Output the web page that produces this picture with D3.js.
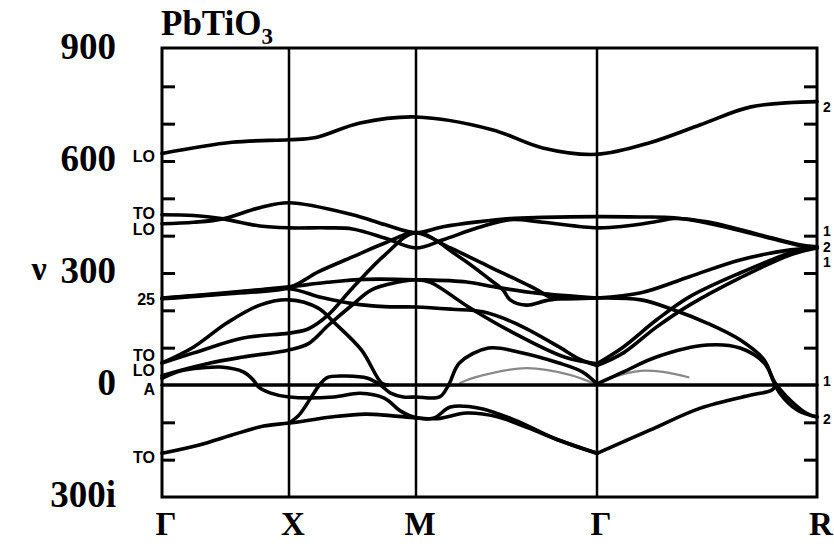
<!DOCTYPE html>
<html>
<head>
<meta charset="utf-8">
<script src="https://cdn.jsdelivr.net/npm/d3@7"></script>
<style>
  body { margin: 0; background: #fff; }
  svg text { fill: #000; }
</style>
</head>
<body>
<div id="chart"></div>
<script>
// Symmetry points along the path
const symLabels = ['Γ', 'X', 'M', 'Γ', 'R'];
const symPos = [0, 1, 2, 3, 4];

// Frequency axis labels (cm^-1), imaginary below zero
const yLabelValues = [900, 600, 300, 0, -300];
const yLabelText = ['900', '600', '300', '0', '300i'];
const yMinorTicks = [-200, -100, 100, 200, 300, 400, 500, 600, 700, 800];

// Mode labels at Γ (left) and at R (right)
const gammaLabels = [
  { text: 'LO', v: 612 }, { text: 'TO', v: 460 }, { text: 'LO', v: 418 },
  { text: '25', v: 228 }, { text: 'TO', v: 80 }, { text: 'LO', v: 38 },
  { text: 'A', v: -13 }, { text: 'TO', v: -193 }
];
const rLabels = [
  { text: '2', v: 745 }, { text: '1', v: 412 }, { text: '2', v: 370 },
  { text: '1', v: 328 }, { text: '1', v: 10 }, { text: '2', v: -90 }
];

// Branches: [path position, frequency]
const branchLOtop = [[0,620],[0.55,650],[1,657],[1.2,662],[1.56,702],[2,718],[2.42,684],[2.70,635],[3,618],[3.24,649],[3.47,697],[3.70,745],[4,759]];
const branchTO1 = [[0,456],[0.25,454],[0.48,445],[0.77,426],[1,421],[1.3,421],[1.5,418],[1.76,393],[2,367],[2.15,389],[2.34,421],[2.52,443],[2.70,436],[3,421],[3.12,425],[3.27,438],[3.35,446],[3.5,437],[3.73,404],[3.91,377],[4,370]];
const branchLO1 = [[0,432],[0.25,436],[0.48,445],[0.77,475],[1,488],[1.5,456],[1.76,429],[2,408],[2.15,424],[2.34,437],[2.52,446],[2.7,449],[3,451],[3.2,450],[3.35,448],[3.5,434],[3.73,402],[3.91,375],[4,367]];
const branch25a = [[0,233],[0.5,247],[1,263],[1.3,275],[1.6,283],[2,282],[2.28,276],[2.43,263],[2.67,246],[3,233]];
const branch25aR = [[3,233],[3.2,247],[3.42,290],[3.65,335],[3.88,362],[4,367]];
const branch25b = [[0,231],[0.5,244],[1,261],[1.23,303],[1.5,343],[1.76,381],[2,408],[2.19,367],[2.41,316],[2.67,255],[2.74,236],[3,233]];
const branch25bR = [[3,233],[3.2,228],[3.35,201],[3.5,166],[3.65,121],[3.76,67],[3.8,13],[3.83,-21],[3.91,-67],[4,-86]];
const branch25c = [[0,232],[0.5,245],[1,258],[1.25,235],[1.5,218],[1.75,210],[2,209],[2.2,203],[2.37,196],[2.55,165],[2.79,102],[2.9,70],[3,52]];
const branchRise2 = [[3,52],[3.12,86],[3.27,155],[3.42,214],[3.65,287],[3.88,349],[4,367]];
const branchTOc = [[0,59],[0.25,102],[0.51,166],[0.77,214],[1,228],[1.23,206],[1.36,166],[1.57,94],[1.73,5],[1.78,0]];
const branchTOd = [[0,59],[0.25,86],[0.64,126],[1,139],[1.15,150],[1.3,185],[1.5,260],[1.76,350],[2,408],[2.24,343],[2.41,282],[2.48,255],[2.52,228],[2.61,214],[2.74,228],[3,233]];
const branchLOe = [[0,25],[0.1,35],[0.38,59],[0.64,75],[1,94],[1.15,110],[1.31,160],[1.5,215],[1.65,255],[1.85,275],[2,282],[2.08,275],[2.29,209],[2.51,147],[2.82,75],[3,57]];
const branchRise1 = [[3,57],[3.12,102],[3.27,174],[3.42,236],[3.65,300],[3.88,354],[4,370]];
const branchAf = [[0,18],[0.15,38],[0.32,46],[0.46,48],[0.64,35],[0.72,13],[0.76,-5],[0.85,-21],[1,-32],[1.35,-32],[1.56,-22],[1.75,-35],[1.88,-70],[2,-88],[2.1,-88],[2.19,-59],[2.35,-62],[2.55,-95],[2.76,-142],[3,-183]];
const branchSoftR = [[3,-183],[3.24,-121],[3.47,-62],[3.7,-27],[3.79,-15],[3.81,-5]];
const branchSoft = [[0,-183],[0.3,-160],[0.55,-134],[0.8,-110],[1,-102],[1.35,-85],[1.6,-78],[1.8,-82],[2,-88],[2.12,-90],[2.28,-75],[2.45,-85],[2.62,-115],[2.8,-150],[3,-183]];
const branchHump = [[1,-102],[1.08,-80],[1.18,-30],[1.24,0],[1.3,20],[1.45,24],[1.62,18],[1.72,0],[1.8,-22],[1.9,-32],[2,-32],[2.13,-32],[2.18,0],[2.24,59],[2.40,99],[2.57,88],[2.79,59],[2.92,35],[3,3]];
const branchHumpR = [[3,3],[3.12,35],[3.27,75],[3.5,107],[3.65,99],[3.76,59],[3.81,5],[3.86,-30],[3.95,-75],[4,-86]];
const branchZero = [[0,0],[4,0]];
const branchGrayM = [[2.24,5],[2.33,21],[2.61,45],[2.85,27],[3,0]];
const branchGrayR = [[3,0],[3.08,22],[3.2,38],[3.3,35],[3.42,20]];

const blackBranches = [branchLOtop, branchTO1, branchLO1, branch25a, branch25aR, branch25b, branch25bR,
  branch25c, branchRise2, branchTOc, branchTOd, branchLOe, branchRise1, branchAf, branchSoftR,
  branchSoft, branchHump, branchHumpR, branchZero];
const grayBranches = [branchGrayM, branchGrayR];

const width = 834, height = 544;
const plot = { left: 162, right: 817, top: 48, bottom: 497 };

const x = d3.scaleLinear().domain(symPos).range([162, 289, 416, 597, 817]);
const y = d3.scaleLinear().domain([-300, 900]).range([497, 49]);

const svg = d3.select('#chart').append('svg')
  .attr('width', width)
  .attr('height', height);

const serif = '"Liberation Serif", "DejaVu Serif", serif';
const sans = '"Liberation Sans", "DejaVu Sans", sans-serif';

// vertical lines at symmetry points
svg.selectAll('line.sym')
  .data(symPos.slice(1, 4))
  .enter().append('line')
  .attr('class', 'sym')
  .attr('x1', d => x(d)).attr('x2', d => x(d))
  .attr('y1', plot.top).attr('y2', plot.bottom)
  .attr('stroke', '#000').attr('stroke-width', 2.5);

// inward ticks, left and right
const leftAxis = d3.axisRight(y).tickValues(yMinorTicks).tickSize(13).tickFormat('');
const rightAxis = d3.axisLeft(y).tickValues(yMinorTicks).tickSize(13).tickFormat('');
[[leftAxis, plot.left], [rightAxis, plot.right]].forEach(([ax, pos]) => {
  const g = svg.append('g').attr('transform', `translate(${pos},0)`).call(ax);
  g.select('.domain').remove();
  g.selectAll('line').attr('stroke', '#000').attr('stroke-width', 3);
});

// dispersion branches
const line = d3.line()
  .x(d => x(d[0]))
  .y(d => y(d[1]))
  .curve(d3.curveCatmullRom.alpha(0.5));

svg.append('g').selectAll('path')
  .data(grayBranches)
  .enter().append('path')
  .attr('d', line)
  .attr('fill', 'none')
  .attr('stroke', '#888')
  .attr('stroke-width', 2.2);

svg.append('g').selectAll('path')
  .data(blackBranches)
  .enter().append('path')
  .attr('d', line)
  .attr('fill', 'none')
  .attr('stroke', '#000')
  .attr('stroke-width', 3.6)
  .attr('stroke-linecap', 'round')
  .attr('stroke-linejoin', 'round');

// frame
svg.append('rect')
  .attr('x', plot.left).attr('y', plot.top)
  .attr('width', plot.right - plot.left)
  .attr('height', plot.bottom - plot.top)
  .attr('fill', 'none')
  .attr('stroke', '#000')
  .attr('stroke-width', 3);

// y labels
svg.selectAll('text.ylab')
  .data(yLabelValues)
  .enter().append('text')
  .attr('class', 'ylab')
  .attr('x', 116)
  .attr('y', d => y(d) - 3)
  .attr('dy', '0.35em')
  .attr('text-anchor', 'end')
  .style('font-family', serif)
  .style('font-weight', 'bold')
  .style('font-size', '37px')
  .text((d, i) => yLabelText[i]);

svg.append('text')
  .attr('x', 39).attr('y', y(300) - 3)
  .attr('dy', '0.3em')
  .attr('text-anchor', 'middle')
  .style('font-family', serif)
  .style('font-weight', 'bold')
  .style('font-size', '34px')
  .text('ν');

// x labels
svg.selectAll('text.xlab')
  .data(symPos)
  .enter().append('text')
  .attr('class', 'xlab')
  .attr('x', d => x(d) + 4)
  .attr('y', 535)
  .attr('text-anchor', 'middle')
  .style('font-family', serif)
  .style('font-weight', 'bold')
  .style('font-size', '33px')
  .text((d, i) => symLabels[i]);

// title
const title = svg.append('text')
  .attr('x', 161).attr('y', 35)
  .style('font-family', serif)
  .style('font-weight', 'bold')
  .style('font-size', '35px');
title.append('tspan').text('PbTiO');
title.append('tspan').attr('dy', 9).style('font-size', '23px').text('3');

// mode labels
svg.selectAll('text.glab')
  .data(gammaLabels)
  .enter().append('text')
  .attr('class', 'glab')
  .attr('x', 155)
  .attr('y', d => y(d.v))
  .attr('dy', '0.35em')
  .attr('text-anchor', 'end')
  .style('font-family', sans)
  .style('font-weight', 'bold')
  .style('font-size', '16px')
  .text(d => d.text);

svg.selectAll('text.rlab')
  .data(rLabels)
  .enter().append('text')
  .attr('class', 'rlab')
  .attr('x', 823)
  .attr('y', d => y(d.v))
  .attr('dy', '0.35em')
  .style('font-family', sans)
  .style('font-weight', 'bold')
  .style('font-size', '14px')
  .text(d => d.text);
</script>
</body>
</html>
